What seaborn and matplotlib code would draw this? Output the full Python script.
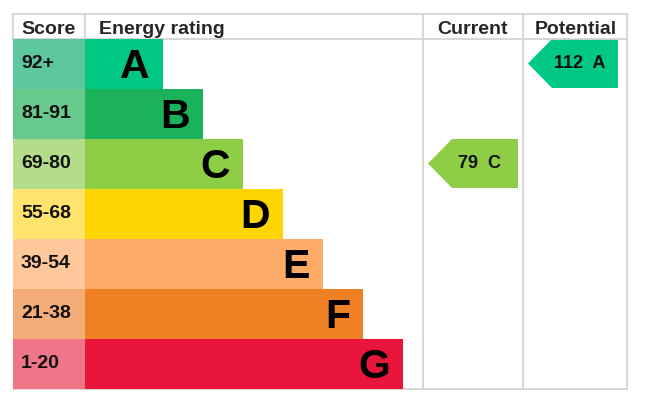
import matplotlib
matplotlib.use("Agg")
import matplotlib.pyplot as plt
from matplotlib.patches import Polygon
import seaborn as sns
import pandas as pd

# ---- data ----
bands = ["A", "B", "C", "D", "E", "F", "G"]
score_ranges = ["92+", "81-91", "69-80", "55-68", "39-54", "21-38", "1-20"]
bar_lengths = [150, 190, 230, 270, 310, 350, 390]   # length of band bar (px units incl. score cell)
score_cell = 72
bar_colors = ["#00c781", "#1bb35a", "#8dce46", "#ffd500", "#fcaa65", "#ef8023", "#e9153b"]
score_colors = ["#5fc7a0", "#68c98c", "#b3dd88", "#ffe36c", "#fec89a", "#f4ad78", "#f07589"]
current_score, current_band = 79, "C"
potential_score, potential_band = 112, "A"

sns.set_theme(style="white")
plt.rcParams["font.family"] = ["Liberation Sans", "DejaVu Sans"]

W, H = 645, 401
fig = plt.figure(figsize=(W / 100, H / 100), dpi=100)
ax0 = fig.add_axes([0, 0, 1, 1])
ax0.set_xlim(0, W)
ax0.set_ylim(H, 0)
ax0.axis("off")

# layout (pixels)
L, T, R, B = 13, 14, 627, 389
HDR = 39
ROW = 50
C1, C2, C3 = 85, 423, 523
grid = "#d3d3d3"
lw = 1.3

# bars axes
ax1 = fig.add_axes([L / W, (H - B) / H, (C2 - 20 - L) / W, (B - HDR) / H])
df = pd.DataFrame({"band": bands, "len": bar_lengths, "score": [score_cell] * 7})
sns.barplot(data=df, x="len", y="band", hue="band", palette=bar_colors,
            width=1.0, orient="h", legend=False, ax=ax1, saturation=1, linewidth=0)
sns.barplot(data=df, x="score", y="band", hue="band", palette=score_colors,
            width=1.0, orient="h", legend=False, ax=ax1, saturation=1, linewidth=0)
ax1.set_xlim(0, C2 - 20 - L)
ax1.set_ylim(6.5, -0.5)
ax1.axis("off")
for i, (b, l, s) in enumerate(zip(bands, bar_lengths, score_ranges)):
    ax1.text(l - 13, i + 0.06, b, ha="right", va="center", fontsize=29.5, fontweight="bold", color="black")
    ax1.text(8, i, s, ha="left", va="center", fontsize=14, fontweight="bold", color="#111111")

# grid lines
ax0.plot([L, R], [T, T], color=grid, lw=lw)
ax0.plot([L, R], [HDR, HDR], color=grid, lw=lw)
ax0.plot([L, R], [B, B], color=grid, lw=lw)
ax0.plot([L, L], [T, HDR], color=grid, lw=lw)
ax0.plot([C1, C1], [T, HDR], color=grid, lw=lw)
for xv in (C2, C3, R):
    ax0.plot([xv, xv], [T, B], color=grid, lw=lw)

# headers
hy = (T + HDR) / 2 + 2.5
ax0.text(21, hy, "Score", ha="left", va="center", fontsize=14, fontweight="bold")
ax0.text(99, hy, "Energy rating", ha="left", va="center", fontsize=14, fontweight="bold")
ax0.text((C2 + C3) / 2, hy, "Current", ha="center", va="center", fontsize=14, fontweight="bold")
ax0.text((C3 + R) / 2 + 1, hy, "Potential", ha="center", va="center", fontsize=14, fontweight="bold")

def arrow(x0, x1, band, label):
    i = bands.index(band)
    top = HDR + i * ROW
    bot = top + ROW - 1
    mid = (top + bot) / 2
    tip = x0
    notch = x0 + 24
    poly = Polygon([(tip, mid), (notch, top), (x1, top), (x1, bot), (notch, bot)],
                   closed=True, facecolor=bar_colors[i], edgecolor="none")
    ax0.add_patch(poly)
    ax0.text((notch + x1) / 2 - 5, mid, label, ha="center", va="center",
             fontsize=13, fontweight="bold", color="#111111")

arrow(C2 + 5, C3 - 5, current_band, f"{current_score}  {current_band}")
arrow(C3 + 5, R - 9, potential_band, f"{potential_score}  {potential_band}")

fig.savefig("out.png", dpi=100)
